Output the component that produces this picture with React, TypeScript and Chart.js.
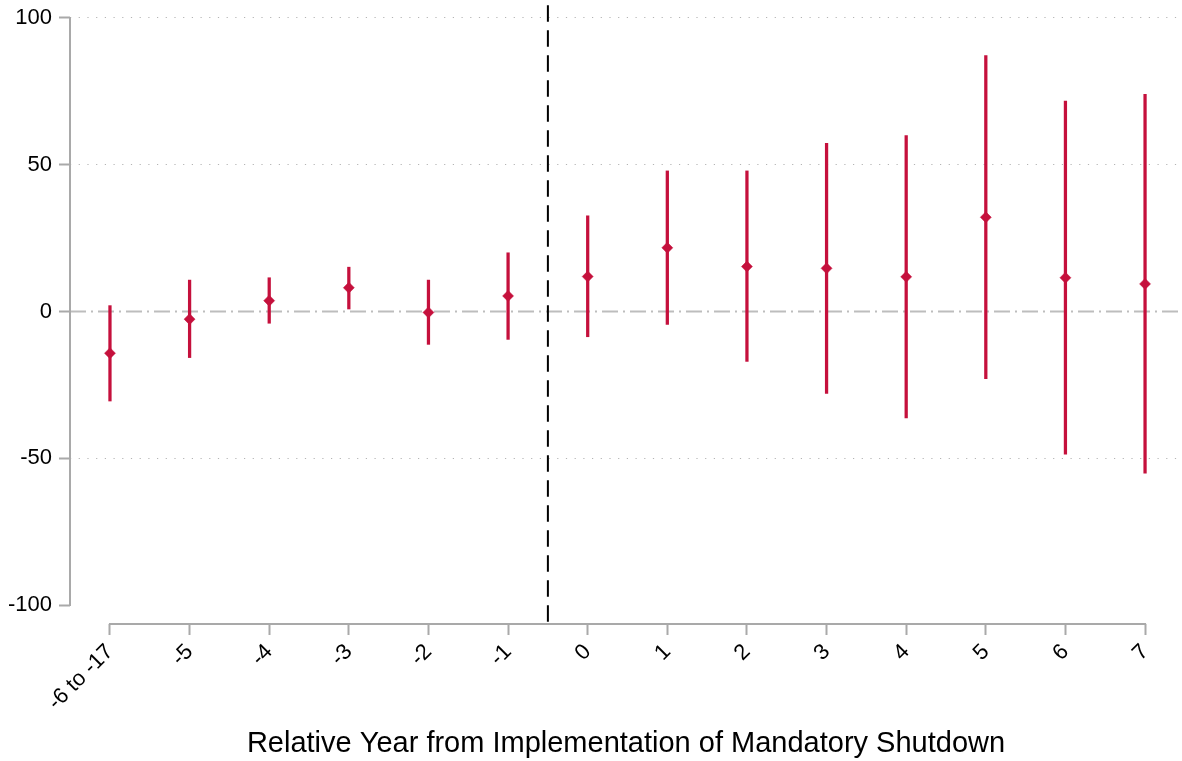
import React, { useEffect, useRef } from "react";
import { Chart, registerables } from "chart.js";

Chart.register(...registerables);

// ---- Data ----
const categories = ["-6 to -17", "-5", "-4", "-3", "-2", "-1", "0", "1", "2", "3", "4", "5", "6", "7"];
const estimates = [-14.2, -2.6, 3.7, 8.1, -0.3, 5.3, 11.9, 21.7, 15.3, 14.7, 11.8, 32.1, 11.5, 9.4];
const lowerCI = [-30.5, -15.7, -4.0, 0.85, -11.2, -9.5, -8.6, -4.4, -17.0, -27.9, -36.3, -22.9, -48.6, -55.1];
const upperCI = [2.0, 10.7, 11.5, 15.1, 10.7, 20.0, 32.6, 47.9, 47.9, 57.3, 59.9, 87.2, 71.7, 74.0];
const yTickValues = [-100, -50, 0, 50, 100];
const gridValues = [-50, 50, 100];
const eventLineX = 5.5;
const xAxisTitle = "Relative Year from Implementation of Mandatory Shutdown";

const X_MIN = -0.502;
const X_MAX = 13.464;
const Y_MIN = -106.47;
const Y_MAX = 106.13;

const RED = "#c5103c";
const AXIS_GRAY = "#a9a9a9";
const FONT = "'Liberation Sans', Arial, Helvetica, sans-serif";

export default function App() {
  const ref = useRef<HTMLCanvasElement | null>(null);

  useEffect(() => {
    if (!ref.current) return;

    const axisLines = {
      id: "axisLines",
      afterDraw(chart: any) {
        const { ctx, chartArea, scales } = chart;
        const x = scales.x;
        const y = scales.y;
        ctx.save();
        ctx.strokeStyle = AXIS_GRAY;
        ctx.lineWidth = 2;
        ctx.setLineDash([]);
        // y axis (offset style: from top tick to bottom tick)
        ctx.beginPath();
        ctx.moveTo(chartArea.left, y.getPixelForValue(yTickValues[yTickValues.length - 1]) - 1);
        ctx.lineTo(chartArea.left, y.getPixelForValue(yTickValues[0]) + 1);
        ctx.stroke();
        // x axis (from first category to last category)
        ctx.beginPath();
        ctx.moveTo(x.getPixelForValue(0) - 1, chartArea.bottom);
        ctx.lineTo(x.getPixelForValue(categories.length - 1) + 1, chartArea.bottom);
        ctx.stroke();
        ctx.restore();
      },
    };

    const chart = new Chart(ref.current, {
      type: "scatter",
      data: {
        datasets: [
          {
            type: "scatter",
            label: "Estimate",
            data: estimates.map((v, i) => ({ x: i, y: v })),
            pointStyle: "rectRot",
            pointRadius: 5.5,
            pointBackgroundColor: RED,
            pointBorderColor: RED,
            pointBorderWidth: 0.5,
            order: 0,
          } as any,
          {
            type: "bar",
            label: "95% CI",
            data: lowerCI.map((lo, i) => ({ x: i, y: [lo, upperCI[i]] })),
            backgroundColor: RED,
            borderWidth: 0,
            borderSkipped: false,
            barThickness: 2.6,
            order: 1,
          } as any,
          {
            type: "line",
            label: "event",
            data: [
              { x: eventLineX, y: Y_MAX },
              { x: eventLineX, y: Y_MIN },
            ],
            borderColor: "#000000",
            borderWidth: 2,
            borderDash: [16.5, 8.5],
            borderDashOffset: 19.7,
            pointRadius: 0,
            order: 2,
          } as any,
          {
            type: "line",
            label: "zero",
            data: [
              { x: X_MIN, y: 0 },
              { x: X_MAX, y: 0 },
            ],
            borderColor: "#bdbdbd",
            borderWidth: 2,
            borderDash: [16, 5, 2, 5],
            pointRadius: 0,
            order: 3,
          } as any,
        ],
      },
      options: {
        animation: false,
        responsive: true,
        maintainAspectRatio: false,
        events: [],
        layout: { padding: 0, autoPadding: false },
        plugins: {
          legend: { display: false },
          tooltip: { enabled: false },
        },
        scales: {
          x: {
            type: "linear",
            min: X_MIN,
            max: X_MAX,
            offset: false,
            afterBuildTicks: (scale: any) => {
              scale.ticks = categories.map((_, i) => ({ value: i }));
            },
            afterFit: (scale: any) => {
              scale.height = 137;
              scale.paddingLeft = 0;
              scale.paddingRight = 0;
            },
            ticks: {
              autoSkip: false,
              minRotation: 45,
              maxRotation: 45,
              padding: 4,
              color: "#000000",
              font: { family: FONT, size: 22 },
              callback: (v: any) => categories[Math.round(Number(v))] ?? "",
            },
            grid: {
              display: true,
              drawOnChartArea: false,
              drawTicks: true,
              tickLength: 11,
              tickColor: AXIS_GRAY,
              tickWidth: 2,
              offset: false,
            },
            border: { display: false },
            title: {
              display: true,
              text: xAxisTitle,
              color: "#000000",
              font: { family: FONT, size: 29 },
              padding: { top: 0, bottom: 0 },
            },
          } as any,
          y: {
            type: "linear",
            min: Y_MIN,
            max: Y_MAX,
            afterBuildTicks: (scale: any) => {
              scale.ticks = yTickValues.map((v) => ({ value: v }));
            },
            afterFit: (scale: any) => {
              scale.width = 70;
              scale.paddingTop = 0;
              scale.paddingBottom = 0;
            },
            ticks: {
              padding: 7,
              color: "#000000",
              font: { family: FONT, size: 22 },
              callback: (v: any) => String(v),
            },
            grid: {
              display: true,
              drawOnChartArea: true,
              drawTicks: true,
              tickLength: 11,
              tickColor: AXIS_GRAY,
              tickWidth: 2,
              lineWidth: 1,
              color: (ctx: any) =>
                ctx.tick && gridValues.includes(ctx.tick.value) ? "#b4b4b4" : "rgba(0,0,0,0)",
            },
            border: { display: false, dash: [1.2, 7.5] },
          } as any,
        },
      } as any,
      plugins: [axisLines],
    });

    return () => chart.destroy();
  }, []);

  return (
    <div style={{ position: "absolute", left: 0, top: 0, width: 1182, height: 761, background: "#fff" }}>
      <canvas ref={ref} />
    </div>
  );
}
